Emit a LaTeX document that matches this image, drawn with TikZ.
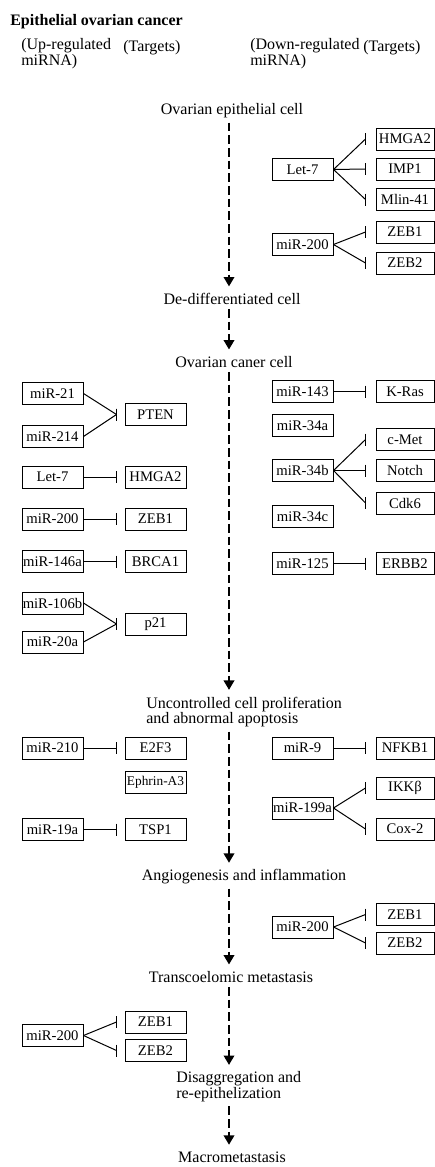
\documentclass[tikz,border=0pt]{standalone}
\usepackage{fontspec}
\setmainfont{Liberation Serif}
\usetikzlibrary{arrows.meta,calc}
\begin{document}
\begin{tikzpicture}[x=0.75pt,y=-0.75pt,
  box/.style={draw,line width=0.75pt,minimum width=45.75pt,minimum height=16.5pt,inner sep=0pt,font=\fontsize{11}{11}\selectfont},
  tbox/.style={box,minimum width=43.5pt},
  stage/.style={inner sep=0pt,font=\fontsize{12}{10}\selectfont,align=left},
  flow/.style={line width=1pt,dash pattern=on 6.5pt off 3pt,shorten <=3pt,shorten >=5pt,-{Triangle[width=8pt,length=7pt]}},
  inh/.style={line width=0.75pt}]
\useasboundingbox (0,0) rectangle (435,1167);
\node[stage,anchor=west,font=\fontsize{12}{12}\selectfont\bfseries] (title) at (10,22) {Epithelial ovarian cancer};
\node[stage,anchor=west] (hup) at (21,54) {(Up-regulated\\miRNA)};
\node[stage,anchor=west] (htup) at (123,47.5) {(Targets)};
\node[stage,anchor=west] (hdown) at (250,54) {(Down-regulated\\miRNA)};
\node[stage,anchor=west] (htdown) at (363,47.5) {(Targets)};

\node[stage] (s1) at (232,111) {Ovarian epithelial cell};
\node[stage] (s2) at (232,299) {De-differentiated cell};
\node[stage] (s3) at (234,362) {Ovarian caner cell};
\node[stage,anchor=west] (s4) at (146,712) {Uncontrolled cell proliferation\\and abnormal apoptosis};
\node[stage] (s5) at (244,877) {Angiogenesis and inflammation};
\node[stage] (s6) at (231,977) {Transcoelomic metastasis};
\node[stage,anchor=west] (s7) at (176,1087) {Disaggregation and\\re-epithelization};
\node[stage] (s8) at (232,1157) {Macrometastasis};
\coordinate (ax) at (229,0);
\foreach \a/\b in {s1/s2,s2/s3,s3/s4,s4/s5,s5/s6,s6/s7,s7/s8}
{
    \draw[flow] (\a.south -| ax) -- (\b.north -| ax);
}

\foreach \n/\txt/\y in {lmir21/miR-21/393.5, lmir214/miR-214/436.5, llet7/Let-7/477, lmira/miR-200/519,
  lmir146/miR-146a/561.5, lmir106/miR-106b/603, lmir20/miR-20a/642, lmir210/miR-210/748,
  lmir19/miR-19a/829.5, lmirb/miR-200/1035.5}
{
    \node[box] (\n) at (52.5,\y) {\txt};
}
\foreach \n/\txt/\y in {lpten/PTEN/414.5, lhmga2/HMGA2/477, lzeb/ZEB1/519, lbrca/BRCA1/561.5,
  lp21/p21/624, le2f3/E2F3/748, ltsp/TSP1/829.5, lzeba/ZEB1/1022, lzebb/ZEB2/1050.5}
{
    \node[box] (\n) at (155.5,\y) {\txt};
}
\node[box,font=\fontsize{10}{10}\selectfont] (leph) at (155.5,782) {Ephrin-A3};
\foreach \n/\txt/\y in {rlet7/Let-7/169.5, rmira/miR-200/244.5, rmir143/miR-143/391.5, rmir34a/miR-34a/425.5,
  rmir34b/miR-34b/470.5, rmir34c/miR-34c/516.5, rmir125/miR-125/563.5, rmir9/miR-9/748,
  rmir199/miR-199a/808, rmirb/miR-200/927}
{
    \node[box] (\n) at (302.5,\y) {\txt};
}
\foreach \n/\txt/\y in {rhmga2/HMGA2/139, rimp1/IMP1/169, rmlin/Mlin-41/199.5, rzeba/ZEB1/232, rzebb/ZEB2/263,
  rkras/K-Ras/391.5, rcmet/c-Met/439.5, rnotch/Notch/470.5, rcdk6/Cdk6/503, rerbb2/ERBB2/563.5,
  rnfkb/NFKB1/748, rikk/IKKβ/788, rcox/Cox-2/829, rzebc/ZEB1/914.5, rzebd/ZEB2/943}
{
    \node[tbox] (\n) at (405,\y) {\txt};
}

\foreach \s/\g in {lmir21/lpten, lmir214/lpten, llet7/lhmga2, lmira/lzeb, lmir146/lbrca, lmir106/lp21,
  lmir20/lp21, lmir210/le2f3, lmir19/ltsp, lmirb/lzeba, lmirb/lzebb}
{
    \draw[inh] (\s.east) -- ($(\g.west)+(-8,0)$) coordinate (bar);
    \draw[inh] ($(bar)+(0,-6)$) -- ($(bar)+(0,6)$);
}
\foreach \s/\g in {rlet7/rhmga2, rlet7/rimp1, rlet7/rmlin, rmira/rzeba, rmira/rzebb, rmir143/rkras,
  rmir34b/rcmet, rmir34b/rnotch, rmir34b/rcdk6, rmir125/rerbb2, rmir9/rnfkb, rmir199/rikk,
  rmir199/rcox, rmirb/rzebc, rmirb/rzebd}
{
    \draw[inh] (\s.east) -- ($(\g.west)+(-10,0)$) coordinate (bar);
    \draw[inh] ($(bar)+(0,-6)$) -- ($(bar)+(0,6)$);
}
\end{tikzpicture}
\end{document}
